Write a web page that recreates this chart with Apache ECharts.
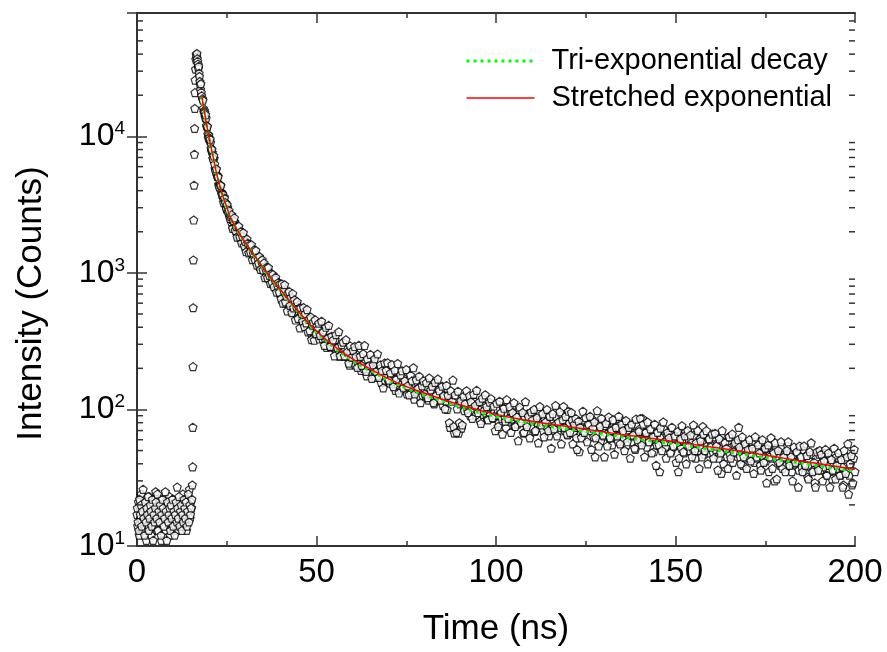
<!DOCTYPE html>
<html>
<head>
<meta charset="utf-8">
<script src="https://cdn.jsdelivr.net/npm/echarts@6/dist/echarts.min.js"></script>
<style>
html, body { margin: 0; padding: 0; background: #fff; }
#chart { width: 887px; height: 652px; }
</style>
</head>
<body>
<div id="chart"></div>
<script>
// TCSPC decay, counts per channel (channels evenly spaced inside each segment)
const baselineStart = 0, baselineStep = 0.2;
const baselineCounts = [17, 14, 21, 12, 19, 16, 24, 15, 18, 13, 20, 17, 22, 11, 16, 19, 14, 23, 18, 15,
  12, 17, 21, 16, 19, 14, 25, 18, 13, 16, 20, 15, 22, 17, 11, 19, 14, 18, 16, 21,
  13, 17, 20, 15, 18, 23, 12, 16, 19, 14, 22, 17, 15, 20, 18, 13, 27, 16, 19, 15,
  21, 17, 14, 18, 24, 16, 20, 15, 19, 13, 22, 17, 18, 26, 16, 21, 19, 28];
const baselineStart2 = 0.1;
const baselineCounts2 = [19, 15, 13, 22, 17, 20, 14, 18, 26, 16, 12, 21, 15, 19, 17, 23, 13, 16, 20, 18,
  14, 22, 11, 17, 15, 19, 21, 16, 24, 13, 18, 15, 20, 12, 17, 22, 19, 14, 16, 25,
  18, 11, 21, 15, 17, 19, 13, 20, 16, 22, 14, 18, 12, 17, 21, 15, 19, 16, 23, 14,
  18, 20, 13, 17, 15, 22, 19, 16, 21, 14, 18, 24, 15, 20, 17, 19, 22];

const riseTime = [15.5, 15.55, 15.6, 15.65, 15.7, 15.8, 15.9, 16.0, 16.05, 16.1, 16.15, 16.2];
const riseCounts = [38, 74, 206, 556, 1245, 2440, 4390, 7390, 11430, 16000, 20900, 25800];

const peakTime = [16.3, 16.4, 16.5, 16.6, 16.7, 16.8, 16.9, 17.0, 17.1, 17.2, 17.3, 17.4, 17.5, 17.6, 17.7, 17.8, 17.9, 18.0];
const peakCounts = [31000, 36500, 39800, 38200, 40400, 37000, 35400, 33800, 31500, 32600, 29000, 27400, 25200, 23900, 22000, 24300, 21000, 19800];

const decayStart = 18.25, decayStep = 0.25;
const decayCounts = [18850, 16030, 15450, 13720, 13550, 11680, 10360, 10200, 9300, 9010, 7820, 7580, 6840, 6880, 5790, 5710,
  5230, 5120, 4450, 4400, 4360, 3900, 3830, 3490, 3620, 3280, 3240, 2930, 3010, 2790, 2620, 2680,
  2370, 2460, 2140, 2360, 2360, 2140, 2015, 2140, 1860, 2000, 2040, 1810, 1820, 1670, 1830, 1670,
  1710, 1500, 1610, 1650, 1440, 1520, 1420, 1530, 1380, 1280, 1390, 1310, 1360, 1200, 1255, 1115,
  1215, 1210, 1105, 1055, 1155, 1050, 1070, 940, 1020, 1040, 920, 950, 890, 950, 830, 885,
  853, 895, 780, 830, 775, 805, 710, 758,
  677, 758, 785, 674, 600, 682, 702, 612, 638, 564, 665, 588, 612, 514, 601, 557, 513, 600, 510, 526,
  466, 532, 486, 504, 429, 483, 502, 430, 450, 408, 457, 416, 459, 361, 419, 380, 398, 349, 409, 371];
const decayStart2 = 18.375;
const decayCounts2 = [18380, 15040, 14940, 14390, 11980, 11800, 9720, 9750, 9520, 8190, 8010, 6880, 7200, 6260, 5580, 5770,
  5070, 5060, 4270, 4420, 4370, 3760, 3760, 3270, 3520, 3270, 2950, 3160, 2790, 2870, 2510, 2590,
  2670, 2120, 2410, 2530, 2050, 2180, 1830, 2190, 2200, 1840, 2000, 1660, 1850, 1970, 1580, 1700,
  1430, 1770, 1650, 1400, 1610, 1420, 1610, 1250, 1400, 1470, 1250, 1460, 1140, 1290, 1180, 1320,
  1060, 1220, 1250, 1050, 1180, 924, 1060, 1100, 921, 1096, 960, 837, 985, 850, 973, 792,
  896, 928, 724, 813, 852, 722, 832, 646,
  831, 601, 743, 819, 614, 675, 527, 708, 732, 578, 659, 511, 705, 555, 635, 452, 568, 616, 464, 552,
  396, 553, 503, 443, 558, 405, 503, 431, 539, 370, 457, 378, 475, 325, 415, 436, 321, 453, 358, 407];

const tailStart = 50.4, tailStep = 0.4;
const tailCounts = [389, 328, 359, 331, 375, 328, 285, 331, 336, 287, 302, 284, 324, 262, 285, 246, 284, 264, 246, 278, 246, 257, 211, 256, 228,
  241, 211, 253, 219, 233, 193, 216, 200, 227, 176, 208, 198, 227, 182, 196, 172, 200, 178, 200, 158, 186, 175, 160, 192, 161,
  156, 181, 161, 167, 138, 169, 150, 158, 139, 172, 147, 155, 130, 146, 156, 133, 146, 119, 154, 134, 145, 125, 137, 126, 144,
  126, 146, 117, 132, 126, 135, 110, 130, 116, 140, 117, 121, 107, 127, 115, 100, 122, 74, 118, 164, 67, 120, 101, 67, 110,
  73, 112, 98, 117, 101, 106, 90, 111, 97, 115, 91, 100, 105, 83, 101, 92, 106, 94, 85, 102, 91, 106, 86, 96, 91,
  100, 80, 93, 86, 103, 89, 73, 94, 82, 98, 85, 89, 75, 93, 78, 100, 82, 86, 67, 88, 78, 93, 81, 88, 73,
  85, 69, 89, 79, 95, 74, 81, 70, 84, 76, 90, 64, 81, 73, 85, 77, 89, 69, 80, 74, 92, 105, 70, 77, 65,
  80, 71, 84, 67, 74, 62, 76, 49, 80, 70, 84, 67, 73, 63, 77, 70, 85, 63, 45, 73, 67, 78, 59, 71, 64,
  76, 66, 83, 62, 71, 55, 68, 63, 76, 58, 72, 65, 83, 61, 68, 55, 71, 62, 76, 58, 64, 51, 68, 62, 72,
  58, 86, 60, 68, 53, 64, 58, 71, 61, 49, 65, 55, 68, 35, 62, 57, 72, 53, 64, 58, 66, 49, 59, 54, 64,
  55, 35, 65, 52, 60, 48, 69, 55, 61, 50, 57, 52, 65, 44, 55, 50, 61, 53, 75, 47, 57, 54, 61, 48, 55,
  49, 63, 51, 56, 44, 53, 34, 58, 49, 52, 45, 63, 47, 53, 41, 55, 48, 57, 74, 45, 50, 39, 52, 47, 55,
  44, 51, 47, 56, 41, 51, 44, 58, 39, 48, 45, 52, 42, 52, 35, 47, 44, 49, 30, 52, 42, 45, 39, 53, 42,
  47, 39, 54, 42, 48, 35, 44, 40, 49, 42, 36, 45, 38, 50, 40, 46, 32, 42, 38, 47, 36, 29, 44, 39, 47,
  36, 41, 38, 48, 33, 42, 39, 44, 31, 41, 36, 45, 37, 42, 33, 38, 28, 43, 35, 56, 33, 40, 28, 44, 35];
const tailStart2 = 50.6;
const tailCounts2 = [428, 349, 443, 369, 295, 400, 331, 413, 290, 344, 323, 247, 353, 283, 371, 247, 298, 311, 247, 324, 264, 218, 292, 242, 271,
  289, 244, 203, 295, 245, 210, 256, 294, 190, 235, 209, 253, 169, 212, 235, 190, 255, 172, 212, 192, 144, 219, 193, 220, 164,
  185, 213, 147, 194, 166, 217, 132, 179, 192, 144, 162, 196, 149, 128, 178, 162, 202, 130, 165, 142, 175, 112, 149, 162, 130,
  157, 122, 170, 139, 148, 112, 158, 127, 167, 137, 117, 148, 126, 101, 150, 127, 80, 137, 115, 75, 128, 68, 136, 80, 116,
  77, 125, 110, 137, 95, 126, 114, 86, 129, 107, 138, 95, 114, 79, 121, 98, 128, 105, 84, 113, 120, 87, 106, 70, 111,
  75, 115, 95, 66, 102, 82, 118, 86, 105, 68, 95, 112, 75, 88, 59, 104, 80, 95, 68, 114, 75, 89, 62, 96, 84,
  100, 70, 87, 57, 105, 77, 93, 63, 81, 100, 70, 89, 52, 93, 72, 107, 64, 81, 96, 56, 84, 74, 89, 66, 97,
  68, 95, 56, 78, 86, 51, 82, 74, 62, 97, 68, 87, 58, 78, 89, 51, 73, 81, 62, 98, 54, 75, 86, 65, 45,
  79, 54, 88, 62, 70, 84, 47, 74, 64, 89, 56, 78, 70, 50, 83, 58, 74, 44, 78, 65, 52, 85, 60, 69, 86,
  55, 78, 45, 68, 81, 58, 72, 48, 63, 78, 39, 68, 55, 73, 50, 81, 58, 44, 68, 62, 48, 74, 54, 64, 41,
  69, 44, 61, 76, 49, 64, 40, 70, 54, 65, 45, 77, 50, 57, 70, 37, 59, 45, 66, 50, 70, 40, 61, 53, 66,
  44, 67, 54, 36, 61, 48, 70, 40, 57, 52, 37, 63, 44, 66, 49, 57, 33, 60, 53, 40, 63, 45, 56, 37, 51,
  60, 42, 52, 34, 63, 45, 55, 48, 36, 60, 41, 52, 29, 55, 45, 62, 37, 48, 57, 31, 50, 41, 58, 37, 45,
  35, 50, 58, 39, 45, 30, 53, 41, 49, 27, 54, 45, 35, 54, 39, 46, 31, 49, 57, 35, 41, 27, 49, 36, 50,
  47, 30, 42, 51, 33, 48, 27, 43, 36, 52, 31, 39, 48, 33, 43, 27, 50, 34, 45, 24, 40, 46, 29, 51];

// fitted curves
const fitTime = [18, 19, 20, 21, 22, 23, 24, 25, 26, 28, 30, 32, 34, 36, 38, 40, 43, 46, 50, 55, 60, 65, 70, 75, 80,
  90, 100, 110, 120, 130, 140, 150, 160, 170, 180, 190, 200];
const stretchedFit = [20000, 14000, 10000, 7500, 5600, 4400, 3600, 3050, 2550, 2050, 1700, 1420, 1200, 1020, 870, 750, 600, 485, 375,
  290, 235, 198, 168, 147, 132, 108, 92, 82, 75, 68.5, 63, 58, 53, 48.5, 44, 40, 36.5];
const triFit = [19500, 13800, 9900, 7450, 5580, 4390, 3590, 3040, 2540, 2040, 1690, 1410, 1190, 1010, 860, 740, 592, 478, 368,
  284, 229, 193, 164, 143, 128, 104.5, 89, 79, 72, 66, 60.5, 55.7, 51, 46.6, 42.4, 38.6, 35.2];

const xTicks = [0, 50, 100, 150, 200];
const yMinorTicks = [20, 30, 40, 50, 60, 70, 80, 90, 200, 300, 400, 500, 600, 700, 800, 900,
  2000, 3000, 4000, 5000, 6000, 7000, 8000, 9000, 20000, 30000, 40000, 50000, 60000, 70000];

const font = '"Liberation Sans", Arial, sans-serif';
const axisColor = '#333';
const triStyle = { color: '#00ff00', width: 3, type: [3, 4] };
const strStyle = { color: '#ff0000', width: 1.5 };

const points = [];
const addSegment = (start, step, counts) => counts.forEach((c, i) => points.push([start + i * step, c]));
addSegment(baselineStart, baselineStep, baselineCounts);
addSegment(baselineStart2, baselineStep, baselineCounts2);
riseTime.forEach((t, i) => points.push([t, riseCounts[i]]));
peakTime.forEach((t, i) => points.push([t, peakCounts[i]]));
addSegment(decayStart, decayStep, decayCounts);
addSegment(decayStart2, decayStep, decayCounts2);
addSegment(tailStart, tailStep, tailCounts);
addSegment(tailStart2, tailStep, tailCounts2);

const chart = echarts.init(document.getElementById('chart'));

const tickStyle = { show: true, inside: true, length: 10, lineStyle: { color: axisColor, width: 1.5 } };
const minorStyle = { show: true, splitNumber: 2, length: 5, lineStyle: { color: axisColor, width: 1.5 } };
const lineAxis = { show: true, lineStyle: { color: axisColor, width: 2 } };

const option = {
  animation: false,
  backgroundColor: '#fff',
  grid: { left: 137, right: 32, top: 13, bottom: 104 },
  legend: {
    left: 465,
    top: 46,
    padding: 0,
    orient: 'vertical',
    itemWidth: 68,
    itemHeight: 14,
    itemGap: 7,
    data: [
      { name: 'Tri-exponential decay', itemStyle: { opacity: 0 }, lineStyle: triStyle },
      { name: 'Stretched exponential', itemStyle: { opacity: 0 }, lineStyle: strStyle }
    ],
    textStyle: { fontFamily: font, fontSize: 29, color: '#000', lineHeight: 30, padding: [0, 0, 0, 12] }
  },
  xAxis: [
    {
      type: 'value', min: xTicks[0], max: xTicks[xTicks.length - 1], interval: 50,
      axisLine: lineAxis, axisTick: tickStyle, minorTick: minorStyle,
      splitLine: { show: false },
      axisLabel: { fontFamily: font, fontSize: 33, color: '#000', margin: 10 },
      name: 'Time (ns)', nameLocation: 'middle', nameGap: 66,
      nameTextStyle: { fontFamily: font, fontSize: 35, color: '#000' }
    },
    {
      type: 'value', position: 'top', min: 0, max: 200, interval: 50,
      axisLine: lineAxis, axisTick: tickStyle, minorTick: minorStyle,
      splitLine: { show: false }, axisLabel: { show: false }
    }
  ],
  yAxis: [
    {
      type: 'log', logBase: 10, min: 10, max: 80000,
      axisLine: lineAxis, axisTick: tickStyle, splitLine: { show: false },
      axisLabel: {
        margin: 12,
        formatter: function (v) {
          const e = Math.round(Math.log10(v));
          return Math.abs(v - Math.pow(10, e)) < 1e-6 * v ? '{b|10}{s|' + e + '}' : '';
        },
        rich: {
          b: { fontFamily: font, fontSize: 32, color: '#000', lineHeight: 34 },
          s: { fontFamily: font, fontSize: 19, color: '#000', verticalAlign: 'top', lineHeight: 34 }
        }
      },
      name: 'Intensity (Counts)', nameLocation: 'middle', nameGap: 88,
      nameTextStyle: { fontFamily: font, fontSize: 35, color: '#000', padding: [0, 48, 0, 0] }
    },
    {
      type: 'log', logBase: 10, min: 10, max: 80000, position: 'right',
      axisLine: lineAxis, axisTick: tickStyle, splitLine: { show: false }, axisLabel: { show: false }
    }
  ],
  series: [
    {
      name: 'Decay',
      type: 'scatter',
      data: points,
      symbol: 'path://M5,0 L10,3.6 L8.1,9.5 L1.9,9.5 L0,3.6 Z',
      symbolSize: 8,
      itemStyle: { color: '#fff', borderColor: '#000', borderWidth: 1.2 },
      z: 2
    },
    {
      name: 'Tri-exponential decay',
      type: 'line',
      data: fitTime.map((t, i) => [t, triFit[i]]),
      smooth: true,
      showSymbol: false,
      symbol: 'none',
      lineStyle: triStyle,
      itemStyle: { color: '#00ff00' },
      z: 3
    },
    {
      name: 'Stretched exponential',
      type: 'line',
      data: fitTime.map((t, i) => [t, stretchedFit[i]]),
      smooth: true,
      showSymbol: false,
      symbol: 'none',
      lineStyle: strStyle,
      itemStyle: { color: '#ff0000' },
      z: 4
    },
    {
      // minor ticks of the log axes (left and right)
      type: 'custom',
      data: yMinorTicks.map(v => [0, v]),
      encode: { x: 0, y: 1 },
      silent: true,
      z: 5,
      renderItem: function (params, api) {
        const v = api.value(1);
        const l = api.coord([0, v]);
        const r = api.coord([200, v]);
        const st = { stroke: axisColor, lineWidth: 1.5 };
        return {
          type: 'group',
          children: [
            { type: 'line', shape: { x1: l[0], y1: l[1], x2: l[0] + 6, y2: l[1] }, style: st },
            { type: 'line', shape: { x1: r[0], y1: r[1], x2: r[0] - 6, y2: r[1] }, style: st }
          ]
        };
      }
    }
  ]
};

chart.setOption(option);
</script>
</body>
</html>
